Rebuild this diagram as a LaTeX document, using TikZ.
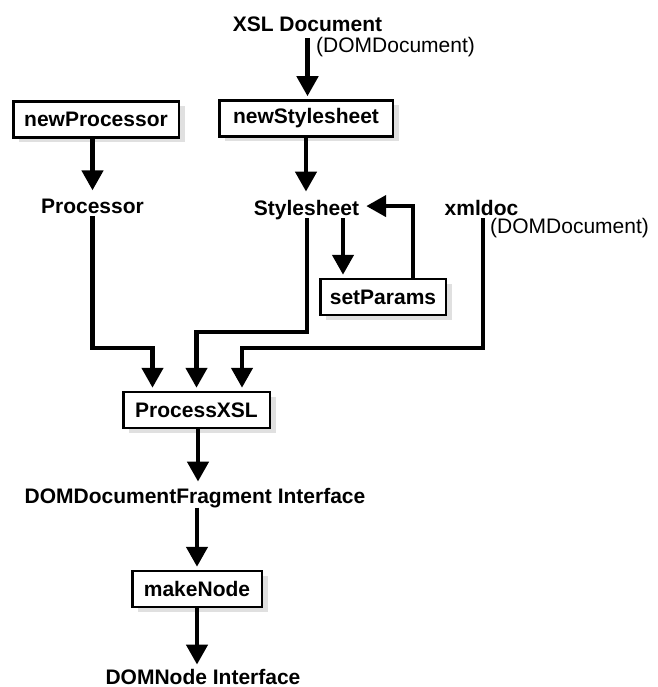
\documentclass[tikz,border=0pt]{standalone}
\usepackage{fontspec}
\setmainfont{Liberation Sans}
\usetikzlibrary{arrows.meta,shadows}
\begin{document}
\begin{tikzpicture}[x=1pt,y=-1pt,
  lbl/.style={font=\fontsize{21}{25}\selectfont\bfseries, inner sep=0pt, anchor=base},
  sub/.style={font=\fontsize{21}{25}\selectfont, inner sep=0pt, anchor=base west},
  box/.style={draw, line width=2.5pt, fill=white, minimum height=36pt, inner sep=0pt,
    font=\fontsize{21}{25}\selectfont\bfseries,
    drop shadow={shadow xshift=6pt, shadow yshift=-5pt, fill=black!12, opacity=1}},
  flow/.style={line width=4.5pt, -{Triangle[width=21pt,length=20pt]}, shorten >=3pt}
]
\useasboundingbox (0,0) rectangle (657,687);

\node[lbl] (xsl) at (307.5,32) {XSL Document};
\node[sub] (xsldom) at (316,53) {(DOMDocument)};
\node[box, minimum width=173.5pt] (newss) at (306,118.5) {newStylesheet};
\node[box, minimum width=165.5pt] (newproc) at (96,119.5) {newProcessor};
\node[lbl] (proc) at (92.5,213) {Processor};
\node[lbl] (ss) at (306.5,215) {Stylesheet};
\node[lbl] (xml) at (481.5,215) {xmldoc};
\node[sub] (xmldom) at (490,233.5) {(DOMDocument)};
\node[box, minimum width=125.5pt] (setp) at (383,297) {setParams};
\node[box, minimum width=146.5pt] (pxsl) at (196.5,410) {ProcessXSL};
\node[lbl] (frag) at (195,503) {DOMDocumentFragment Interface};
\node[box, minimum width=129.5pt] (mk) at (197,589) {makeNode};
\node[lbl] (dn) at (203,684) {DOMNode Interface};

\draw[flow] ([yshift=-6pt]xsl.base) -- (xsl.base |- newss.north);
\draw[flow] (newss.south) -- ([yshift=5pt]newss.south |- ss.north);
\draw[flow] (newproc.south -| proc.base) -- ([yshift=5pt]proc.north);

\draw[flow] ([yshift=-3pt]proc.base) -- ++(0,132) -| ([xshift=-44pt]pxsl.north);
\draw[flow] ([xshift=0.5pt,yshift=-3pt]ss.base) -- ++(0,114) -| (pxsl.north);
\draw[flow] ([xshift=1.5pt,yshift=-3pt]xml.base) -- ++(0,130) -| ([xshift=45.5pt]pxsl.north);

\draw[flow] ([xshift=36.5pt,yshift=-3pt]ss.base) -- ([xshift=36.5pt]ss.base |- setp.north);
\draw[flow] ([xshift=30pt]setp.north) |- ([xshift=4pt,yshift=3.5pt]ss.east);

\draw[flow] ([xshift=1.5pt]pxsl.south) -- ([xshift=1.5pt,yshift=3pt]pxsl.south |- frag.north);
\draw[flow] (frag.south -| mk.north) -- (mk.north);
\draw[flow] (mk.south) -- ([yshift=1pt]mk.south |- dn.north);
\end{tikzpicture}
\end{document}
